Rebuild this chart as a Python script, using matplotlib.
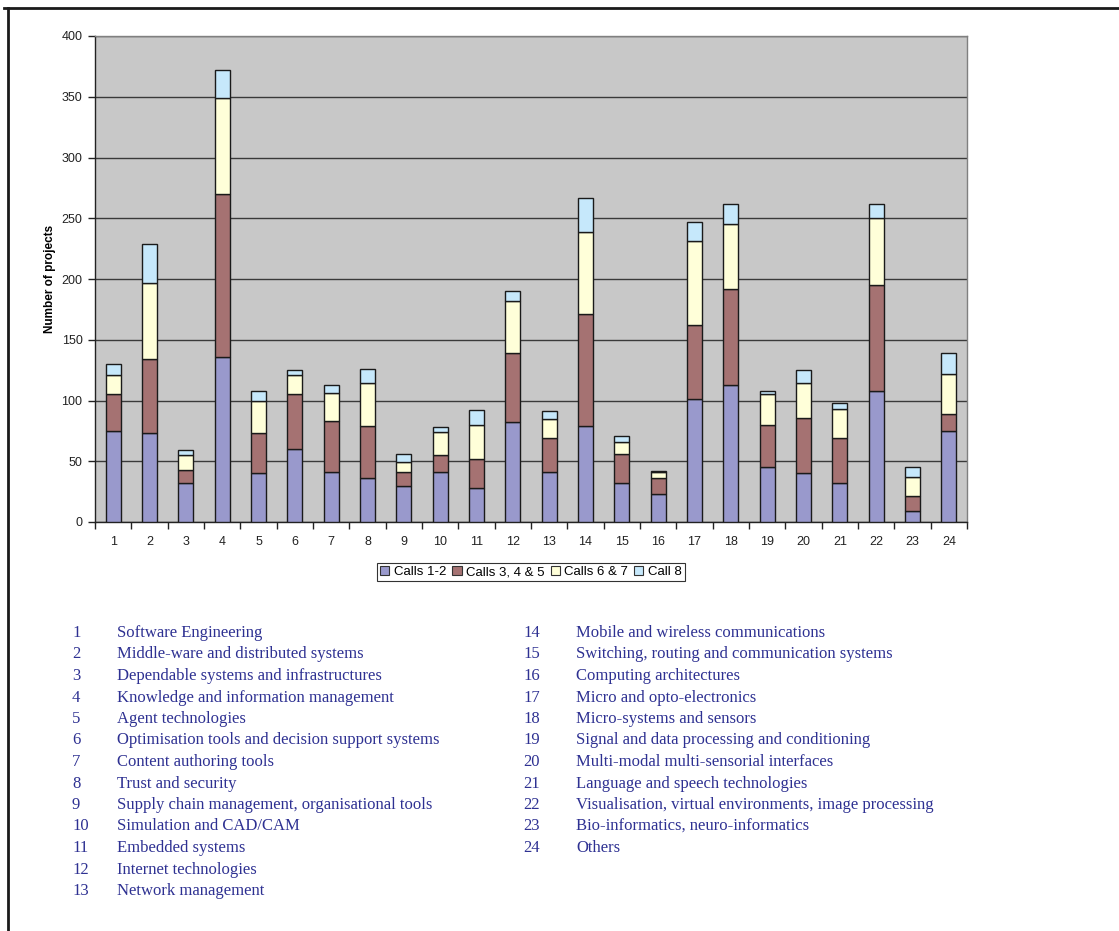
import matplotlib
matplotlib.use("Agg")
import matplotlib.pyplot as plt
import numpy as np
from matplotlib.patches import Patch
from matplotlib.lines import Line2D

# Technology areas (x-axis categories)
categories = [str(i) for i in range(1, 25)]
area_names = [
    "Software Engineering",
    "Middle-ware and distributed systems",
    "Dependable systems and infrastructures",
    "Knowledge and information management",
    "Agent technologies",
    "Optimisation tools and decision support systems",
    "Content authoring tools",
    "Trust and security",
    "Supply chain management, organisational tools",
    "Simulation and CAD/CAM",
    "Embedded systems",
    "Internet technologies",
    "Network management",
    "Mobile and wireless communications",
    "Switching, routing and communication systems",
    "Computing architectures",
    "Micro and opto-electronics",
    "Micro-systems and sensors",
    "Signal and data processing and conditioning",
    "Multi-modal multi-sensorial interfaces",
    "Language and speech technologies",
    "Visualisation, virtual environments, image processing",
    "Bio-informatics, neuro-informatics",
    "Others",
]

# Number of projects per call group
calls_1_2 = [75, 73, 32, 136, 40, 60, 41, 36, 30, 41, 28, 82, 41, 79, 32, 23, 101, 113, 45, 40, 32, 108, 9, 75]
calls_3_4_5 = [30, 61, 11, 134, 33, 45, 42, 43, 11, 14, 24, 57, 28, 92, 24, 13, 61, 79, 35, 46, 37, 87, 12, 14]
calls_6_7 = [16, 63, 12, 79, 27, 16, 23, 35, 8, 19, 28, 43, 16, 68, 10, 5, 69, 53, 25, 28, 24, 55, 16, 33]
call_8 = [9, 32, 4, 23, 8, 4, 7, 12, 7, 4, 12, 8, 6, 28, 5, 1, 16, 17, 3, 11, 5, 12, 8, 17]

series_names = ["Calls 1-2", "Calls 3, 4 & 5", "Calls 6 & 7", "Call 8"]
series_values = [calls_1_2, calls_3_4_5, calls_6_7, call_8]
series_colors = ["#9999cc", "#a57272", "#ffffd9", "#c6e8fb"]

W, H = 1119, 931
fig = plt.figure(figsize=(W / 100, H / 100), dpi=100)
fig.patch.set_facecolor("white")

# plot area in pixel coordinates
left, right, top, bottom = 95, 967, 36, 522
ax = fig.add_axes([left / W, 1 - bottom / H, (right - left) / W, (bottom - top) / H])
ax.set_facecolor("#c8c8c8")

x = np.arange(len(categories))
base = np.zeros(len(categories))
for name, vals, col in zip(series_names, series_values, series_colors):
    v = np.array(vals, dtype=float)
    ax.bar(x, v, bottom=base, width=0.42, color=col, edgecolor="#1a1a1a",
           linewidth=1.0, label=name, zorder=3)
    base += v

ax.set_xlim(-0.5, len(categories) - 0.5)
ax.set_ylim(0, 400)
ax.set_yticks(np.arange(0, 401, 50))
ax.yaxis.grid(True, color="#3a3a3a", linewidth=1.0, zorder=1)
ax.set_axisbelow(True)

ax.set_xticks(x)
ax.set_xticklabels(categories, fontsize=9, fontfamily="Liberation Sans")
ax.set_xticks(np.arange(-0.5, len(categories), 1), minor=True)
ax.tick_params(axis="x", which="major", length=0, pad=10)
ax.tick_params(axis="x", which="minor", length=5, width=1, color="#222222", direction="out")
ax.tick_params(axis="y", length=5, width=1, color="#222222", direction="out", pad=4)
for lab in ax.get_yticklabels():
    lab.set_fontsize(9)
    lab.set_fontfamily("Liberation Sans")
    lab.set_color("#222222")
for lab in ax.get_xticklabels():
    lab.set_color("#222222")

ax.spines["left"].set_color("#222222")
ax.spines["bottom"].set_color("#222222")
ax.spines["top"].set_color("#808080")
ax.spines["right"].set_color("#808080")
for s in ax.spines.values():
    s.set_linewidth(1.0)

ax.set_ylabel("Number of projects", fontsize=8.5, fontweight="bold",
              fontfamily="Liberation Sans", labelpad=4)

# legend below the chart
handles = [Patch(facecolor=c, edgecolor="#333333", linewidth=0.8) for c in series_colors]
leg = fig.legend(handles, series_names, loc="center", bbox_to_anchor=(531 / W, 1 - 572 / H),
                 ncol=4, frameon=True, fancybox=False, edgecolor="#000000",
                 prop={"family": "Liberation Sans", "size": 9.5},
                 handlelength=0.7, handleheight=0.7, handletextpad=0.35, columnspacing=0.45,
                 borderpad=0.25, borderaxespad=0)
leg.get_frame().set_linewidth(0.8)

# numbered list of technology areas
txt_color = "#2e3192"
row0, dy = 633, 21.5
for i, name in enumerate(area_names):
    if i < 13:
        xn, xt, r = 72, 117, i
    else:
        xn, xt, r = 523, 576, i - 13
    yy = 1 - (row0 + r * dy) / H
    fig.text(xn / W, yy, categories[i], fontsize=12, family="Liberation Serif",
             color=txt_color, va="center", ha="left")
    fig.text(xt / W, yy, name, fontsize=12, family="Liberation Serif",
             color=txt_color, va="center", ha="left")

# page frame lines (top and left)
fig.add_artist(Line2D([4 / W, 1.0], [1 - 8 / H, 1 - 8 / H], transform=fig.transFigure,
                      color="#1a1a1a", linewidth=2.0))
fig.add_artist(Line2D([8 / W, 8 / W], [1 - 8 / H, 0.0], transform=fig.transFigure,
                      color="#1a1a1a", linewidth=2.0))

fig.savefig("out.png", dpi=100, facecolor="white")
